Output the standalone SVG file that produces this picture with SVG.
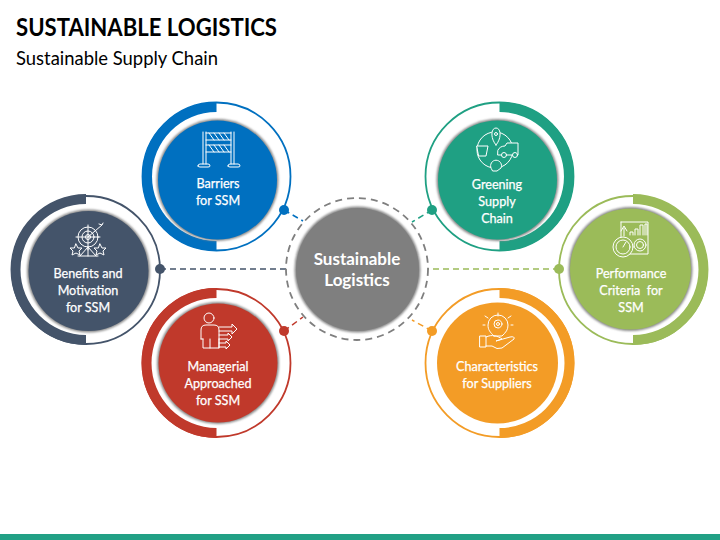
<svg xmlns="http://www.w3.org/2000/svg" width="720" height="540" viewBox="0 0 720 540">
<style>
text{font-family:Lato,"Liberation Sans",sans-serif;}
.t{fill:#fff;stroke:#fff;stroke-width:.25;font-size:12.6px;text-anchor:middle;}
.m{fill:#fff;font-size:17px;font-weight:700;text-anchor:middle;}
.i{fill:none;stroke:#fff;stroke-width:1;stroke-linejoin:round;stroke-linecap:round;}
.c{fill:none;stroke-width:1.5;stroke-dasharray:6 4;}
.h{fill:#8a8a8a;filter:url(#b);}
</style>
<defs>
<filter id="b" x="-20%" y="-20%" width="140%" height="140%"><feGaussianBlur stdDeviation="1.3"/></filter>
</defs>
<rect width="720" height="540" fill="#fff"/>
<text x="16" y="36" font-size="25" font-weight="700" fill="#000" textLength="261" lengthAdjust="spacingAndGlyphs">SUSTAINABLE LOGISTICS</text>
<text x="16" y="65" font-size="18.5" fill="#000" textLength="202" lengthAdjust="spacingAndGlyphs">Sustainable Supply Chain</text>
<rect x="0" y="534" width="720" height="6" fill="#21a085"/>
<g id="connectors">
<path class="c" stroke="#0070c0" d="M284 210L303 221"/>
<path class="c" stroke="#1fa083" d="M432 210L412 222"/>
<path class="c" stroke="#44546a" d="M160 269H287"/>
<path class="c" stroke="#9bbb59" d="M559 269H428"/>
<path class="c" stroke="#c0392b" d="M284 331L303 317"/>
<path class="c" stroke="#f39c26" d="M432 331L412 320"/>
</g>
<g id="center">
<circle cx="357" cy="269" r="71" fill="none" stroke="#7f7f7f" stroke-width="1.800" stroke-dasharray="7 5"/>
<circle class="h" cx="357.500" cy="269.500" r="63"/>
<circle cx="357.500" cy="269.500" r="61.500" fill="#7f7f7f"/>
<text class="m" x="357" y="265">Sustainable</text>
<text class="m" x="357" y="286">Logistics</text>
</g>
<g id="barriers">
<circle cx="216.500" cy="176.500" r="74" fill="none" stroke="#0070c0" stroke-width="1.800"/>
<path d="M216.500 102A74.500 74.500 0 0 0 216.500 251V241A64.500 64.500 0 0 1 216.500 112Z" fill="#0070c0"/>
<circle class="h" cx="217.500" cy="180" r="61"/>
<circle cx="217.500" cy="180" r="59.500" fill="#0070c0"/>
<circle cx="284" cy="210" r="5" fill="#0070c0"/>
<path class="i" d="M203 132V164M206 132V164M231 132V164M234 132V164M206 133H231M206 140H231M206 145H231M206 152H231M198 166Q198 164 200 164H208Q210 164 210 166Q210 167 208 167H200Q198 167 198 166ZM228 166Q228 164 230 164H238Q240 164 240 166Q240 167 238 167H230Q228 167 228 166ZM209 133L214 140M214 133L219 140M219 133L224 140M224 133L229 140M209 145L214 152M214 145L219 152M219 145L224 152M224 145L229 152"/>
<text class="t" x="218" y="188">Barriers</text><text class="t" x="218" y="205">for SSM</text>
</g>
<g id="greening">
<circle cx="499.500" cy="176.500" r="74" fill="none" stroke="#1fa083" stroke-width="1.800"/>
<path d="M499.500 102A74.500 74.500 0 0 1 499.500 251V241A64.500 64.500 0 0 0 499.500 112Z" fill="#1fa083"/>
<circle class="h" cx="497.500" cy="180" r="61"/>
<circle cx="497.500" cy="180" r="59.500" fill="#1fa083"/>
<circle cx="432" cy="210" r="5" fill="#1fa083"/>
<g class="i"><circle cx="495" cy="150" r="18"/><path d="M496 145C490 138 491 128 496 128C501 128 502 138 496 145Z" fill="#1fa083"/><circle cx="496" cy="134" r="1.500"/><path d="M477 146H488L486 156H479Z" fill="#1fa083"/><path d="M498 150Q500 146 505 146L507 143H518V155H498Z" fill="#1fa083"/><circle cx="504" cy="155" r="2.500" fill="#1fa083"/><circle cx="515" cy="155" r="2.500" fill="#1fa083"/><path d="M491 168A5.500 5.500 0 1 1 501 168L497 171H493Z" fill="#1fa083"/></g>
<text class="t" x="497" y="189">Greening</text><text class="t" x="497" y="206">Supply</text><text class="t" x="497" y="223">Chain</text>
</g>
<g id="benefits">
<circle cx="86" cy="270" r="74" fill="none" stroke="#44546a" stroke-width="1.800"/>
<path d="M86 194A75 75 0 0 0 86 345V335A65 65 0 0 1 86 204Z" fill="#44546a"/>
<circle class="h" cx="88.500" cy="271" r="61.500"/>
<circle cx="88.500" cy="271" r="60" fill="#44546a"/>
<circle cx="160" cy="269" r="5" fill="#44546a"/>
<g class="i"><circle cx="88" cy="237" r="10"/><circle cx="88" cy="237" r="6"/><circle cx="88" cy="237" r="2.500"/><path d="M88 225V250M76 237H100M88 237L102 225M99 224L102 225L103 223M88 247L80 256M88 247V256M88 247L96 256M78 256H98"/><path d="M76 244L78 248L82 248L79 251L80 255L76 253L72 255L73 251L70 248L74 248ZM100 244L102 248L106 248L103 251L104 255L100 253L96 255L97 251L94 248L98 248Z"/></g>
<text class="t" x="88" y="278">Benefits and</text><text class="t" x="88" y="295">Motivation</text><text class="t" x="88" y="312">for SSM</text>
</g>
<g id="performance">
<circle cx="633" cy="270" r="74" fill="none" stroke="#9bbb59" stroke-width="1.800"/>
<path d="M633 194A75 75 0 0 1 633 345V335A65 65 0 0 0 633 204Z" fill="#9bbb59"/>
<circle class="h" cx="630.500" cy="269" r="62"/>
<circle cx="630.500" cy="269" r="60.500" fill="#9bbb59"/>
<circle cx="559" cy="269" r="5" fill="#9bbb59"/>
<g class="i"><path d="M621 222H648V254H625"/><path d="M621 222V238M624 236V228M621 231L624 226L627 231M630 235V232H633V235M635 235V229H638V235M640 235V225H643V235M645 235V224H647V235"/><circle cx="623" cy="247" r="10" fill="#9bbb59"/><circle cx="623" cy="247" r="7"/><path d="M623 247L626 242"/><circle cx="640" cy="245" r="6" fill="#9bbb59"/><circle cx="640" cy="245" r="3.500"/></g>
<text class="t" x="631" y="278">Performance</text><text class="t" x="631" y="295" xml:space="preserve">Criteria  for</text><text class="t" x="631" y="312">SSM</text>
</g>
<g id="managerial">
<circle cx="216.500" cy="363" r="74" fill="none" stroke="#c0392b" stroke-width="1.800"/>
<path d="M216.500 288A75 75 0 0 0 216.500 438V428A65 65 0 0 1 216.500 298Z" fill="#c0392b"/>
<circle class="h" cx="218" cy="363" r="61"/>
<circle cx="218" cy="363" r="59.500" fill="#c0392b"/>
<circle cx="284" cy="331" r="5" fill="#c0392b"/>
<g class="i"><circle cx="209" cy="318" r="5"/><path d="M201 339V330Q201 325 206 325H214Q219 325 219 330V348H203V339M203 339H201M219 339V348M210 339V348M219 327H232V324L237 329L232 334V331H219M219 335H228V333L232 337L228 341V339H219M219 343H226V341L230 345L226 349V347H219"/></g>
<text class="t" x="218" y="371">Managerial</text><text class="t" x="218" y="388">Approached</text><text class="t" x="218" y="405">for SSM</text>
</g>
<g id="characteristics">
<circle cx="499.500" cy="363" r="74" fill="none" stroke="#f39c26" stroke-width="1.800"/>
<path d="M499.500 288A75 75 0 0 1 499.500 438V428A65 65 0 0 0 499.500 298Z" fill="#f39c26"/>
<circle cx="497.500" cy="363" r="60.500" fill="#f39c26"/>
<circle cx="432" cy="331" r="5" fill="#f39c26"/>
<g class="i"><circle cx="498" cy="324" r="4"/><circle cx="498" cy="324" r="1.500"/><path d="M494 336C490 332 488 330 488 325A10 10 0 0 1 508 325C508 330 506 332 502 336H494ZM485 316L488 318M498 313V316M511 316L508 318M483 325H485M511 325H513"/><path d="M480 336H486V347H480ZM486 337C492 334 498 336 502 339L496 341L510 337Q515 336 514 339L502 348Q497 350 492 346H486"/></g>
<text class="t" x="497" y="371">Characteristics</text><text class="t" x="497" y="388">for Suppliers</text>
</g>
</svg>
